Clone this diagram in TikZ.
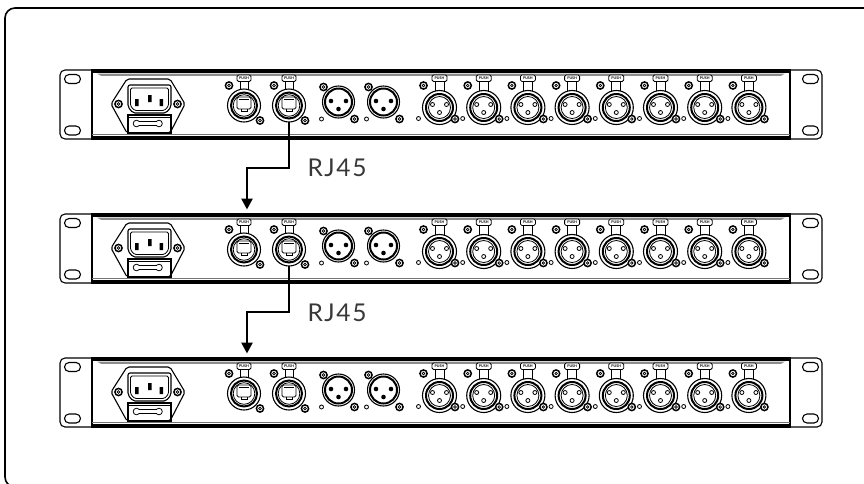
\documentclass[tikz,border=0pt]{standalone}
\usepackage{fontspec}
\setmainfont{Lato}
\usetikzlibrary{arrows.meta}
\newcommand\screwat[1]{\draw[screw,fill=white] #1 circle (3.6); \draw[line width=0.7pt] #1 circle (1.3);}
\tikzset{
  frame/.style={line width=1.6pt, rounded corners=10pt},
  ln/.style={line width=0.8pt},
  lw1/.style={line width=1.1pt},
  ringw/.style={line width=2pt},
  screw/.style={line width=1.5pt},
  link/.style={line width=2.6pt, -{Triangle[length=11pt,width=11pt]}},
  lbl/.style={font=\fontsize{24.5}{24.5}\selectfont, text=black!78, inner sep=0pt},
  pushtxt/.style={font=\fontsize{3.6}{3.6}\selectfont\bfseries, inner sep=0pt},
  pics/ethercon/.style={code={
    \draw[ln] (-4,-24) -- (-4,-15.5) (4,-24) -- (4,-15.5);
    \draw[ln, fill=white, rounded corners=1.5] (-7,-30.5) rectangle (7,-24);
    \node[pushtxt] (-push) at (0,-27.2) {PUSH};
    \draw[lw1, fill=white] (0,0) circle (16.5);
    \draw[ringw] (0,0) circle (13);
    \draw[ln] (0,0) circle (10.8);
    \draw[ln, rounded corners=1.5] (-7,-8.5) rectangle (7,3.5);
    \draw[ln] (-3,3.5) -- (-3,6) -- (3,6) -- (3,3.5);
    \draw[ln] (-5,-6) -- (5,-6);
    \screwat{(-15,-20)}
    \screwat{(16,15)}
  }},
  pics/xlrf/.style={code={
    \draw[ln] (-4.5,-26) -- (-4.5,-16) (4.5,-26) -- (4.5,-16);
    \draw[ln, fill=white, rounded corners=1.5] (-7.5,-32.5) rectangle (7.5,-26);
    \node[pushtxt] (-push) at (0,-29.2) {PUSH};
    \draw[lw1, fill=white] (0,0) circle (17);
    \draw[ringw] (0,0) circle (13.5);
    \draw[ln] (0,0) circle (11);
    \draw[ln] (-7,-3) circle (2) (7,-3) circle (2) (0,5) circle (2);
    \draw[ln] (-21,11) circle (2);
    \screwat{(-16,-22)}
    \screwat{(15.5,11.5)}
  }},
  pics/xlrm/.style={code={
    \draw[lw1, fill=white] (0,0) circle (16);
    \draw[ringw] (0,0) circle (13.5);
    \fill (-7.5,-1) circle (2.3) (7.5,-1) circle (2.3) (0,7) circle (2.3);
    \draw[ln] (-17,17) circle (2);
    \screwat{(-15,-15)}
    \screwat{(16,17)}
  }},
  pics/rackunit/.style={code={
    % ears
    \draw[lw1, rounded corners=5] (92,0) -- (60,0) -- (60,69) -- (92,69);
    \draw[lw1, rounded corners=5] (790,0) -- (822,0) -- (822,69) -- (790,69);
    \draw[lw1, rounded corners=4.5] (64.5,4.5) rectangle (80.5,13.5);
    \draw[lw1, rounded corners=4.5] (64.5,56) rectangle (80.5,65);
    \draw[lw1, rounded corners=4.5] (802.5,4.5) rectangle (818.5,13.5);
    \draw[lw1, rounded corners=4.5] (802.5,56) rectangle (818.5,65);
    % chassis
    \draw[lw1] (92,0) rectangle (790,69);
    \fill (92,0) rectangle (790,3);
    \fill[black!45] (97,3.6) -- (785,3.6) -- (781,5.8) -- (101,5.8) -- cycle;
    \fill (92,65.8) rectangle (790,69);
    \draw[black!55, line width=0.8pt] (92,64) -- (790,64);
    % power inlet
    \draw[lw1, rounded corners=2, fill=white] (127,9) -- (170,9) -- (185,34) -- (170,63) -- (127,63) -- (111,34) -- cycle;
    \screwat{(118.5,34)}
    \screwat{(177.5,34)}
    \draw[lw1, rounded corners=2] (128,15) -- (171,15) -- (171,37) -- (166,43) -- (133,43) -- (128,37) -- cycle;
    \draw[ln, rounded corners=1.5] (130.5,18) -- (168.5,18) -- (168.5,36) -- (164.5,40.5) -- (134.5,40.5) -- (130.5,36) -- cycle;
    \fill (135,29) rectangle (138.5,36) (148,25) rectangle (151.5,32) (159.5,29) rectangle (163,36);
    \draw[lw1] (128,45) rectangle (171,63);
    \draw[ln] (128,47.5) -- (171,47.5);
    \draw[ln] (136.5,53.5) circle (3.3) (159,53.5) circle (3.3);
    \fill[white] (137.5,52) rectangle (158,55);
    \draw[ln] (138.8,51.6) -- (156.7,51.6) (138.8,55.4) -- (156.7,55.4);
    % connectors
    \pic (-e1) at (244,35.5) {ethercon};
    \pic (-e2) at (289,35.5) {ethercon};
    \pic (-m1) at (338.5,32) {xlrm};
    \pic (-m2) at (383.5,32) {xlrm};
    \foreach \i in {0,...,7} { \pic (-f\i) at ({439.5+44.2*\i},37.5) {xlrf}; }
    \coordinate (-out) at (289,52);
    \coordinate (-kink) at (247,98);
    \coordinate (-in) at (247,-4.5);
  }},
}
\begin{document}
\begin{tikzpicture}[x=1pt,y=-1pt]
\useasboundingbox (0,0) rectangle (864,483);
\clip (0,0) rectangle (864,483);
\draw[frame] (5,8) rectangle (880,487);
\pic (r1) at (0,70) {rackunit};
\pic (r2) at (0,214) {rackunit};
\pic (r3) at (0,358) {rackunit};
\draw[link] (r1-out) |- (r1-kink) -- (r2-in);
\draw[link] (r2-out) |- (r2-kink) -- (r3-in);
\node[lbl] (t1) at (337,168) {R\kern1.6ptJ\kern1.6pt4\kern1.6pt5};
\node[lbl] (t2) at (337,313) {R\kern1.6ptJ\kern1.6pt4\kern1.6pt5};
\end{tikzpicture}
\end{document}
